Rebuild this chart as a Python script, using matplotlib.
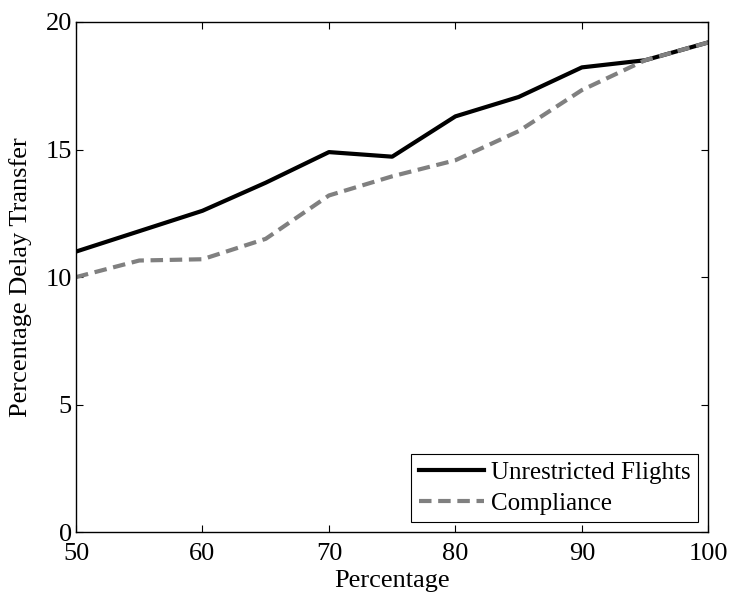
import matplotlib
matplotlib.use("Agg")
import matplotlib.pyplot as plt

x = [50, 55, 60, 65, 70, 75, 80, 85, 90, 95, 100]
unrestricted = [11.0, 11.8, 12.6, 13.7, 14.9, 14.72, 16.3, 17.06, 18.22, 18.5, 19.2]
compliance = [10.0, 10.65, 10.7, 11.5, 13.2, 13.95, 14.58, 15.72, 17.33, 18.5, 19.2]
xticks = [50, 60, 70, 80, 90, 100]
yticks = [0, 5, 10, 15, 20]

plt.rcParams['font.family'] = ['Liberation Serif', 'DejaVu Serif']

fig = plt.figure(figsize=(7.31, 5.94), dpi=100)
ax = fig.add_axes([0.104, 0.104, 0.865, 0.859])

ax.plot(x, unrestricted, color='black', lw=3.0, label='Unrestricted Flights')
ax.plot(x, compliance, color='#808080', lw=3.0, ls=(0, (3, 1.6)), label='Compliance')

ax.set_xlim(50, 100)
ax.set_ylim(0, 20)
ax.set_xticks(xticks)
ax.set_yticks(yticks)
ax.tick_params(direction='in', top=True, right=True, length=5, width=0.8,
               labelsize=19)
ax.tick_params(axis='x', pad=8)
ax.tick_params(axis='y', pad=3)
for s in ax.spines.values():
    s.set_linewidth(1.0)

ax.set_xlabel('Percentage', fontsize=19, labelpad=3)
ax.set_ylabel('Percentage Delay Transfer', fontsize=19, labelpad=10)

leg = ax.legend(loc='lower right', fontsize=18, frameon=True, fancybox=False,
                edgecolor='black', framealpha=1, borderaxespad=0.4,
                handlelength=2.6, handletextpad=0.3, borderpad=0.3,
                labelspacing=0.32)
leg.get_frame().set_linewidth(0.8)

fig.savefig('out.png', dpi=100)
